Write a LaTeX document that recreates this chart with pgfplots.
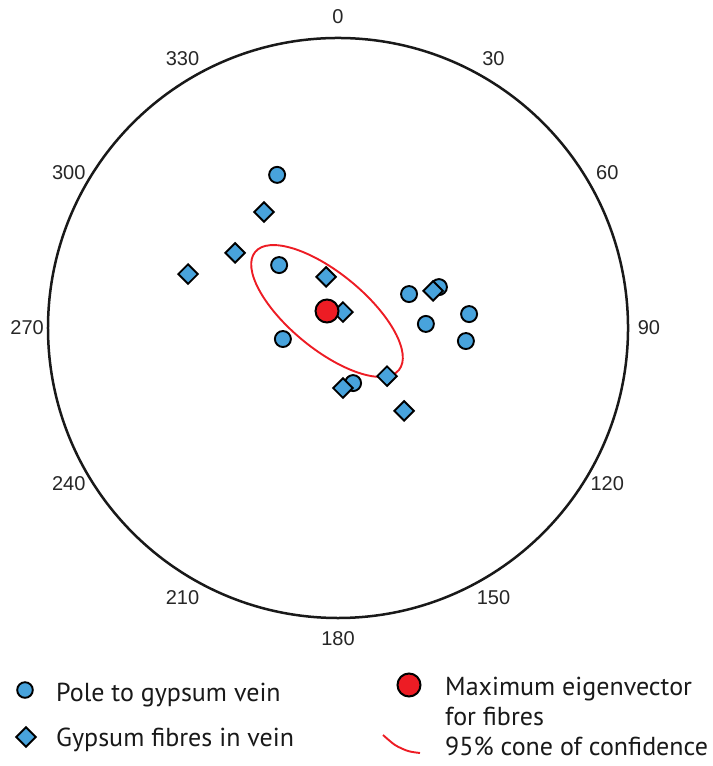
\documentclass[border=0pt]{standalone}
\usepackage{pgfplots}
\pgfplotsset{compat=1.18}
\usepackage{fontspec}
\setmainfont{Liberation Sans}
\newfontfamily\legfont{PT Sans}
\definecolor{ptblue}{RGB}{72,163,220}
\definecolor{ptred}{RGB}{237,28,36}
\begin{document}
\begin{tikzpicture}
\begin{axis}[
  scale only axis, width=580pt, height=580pt,
  xmin=-1, xmax=1, ymin=-1, ymax=1,
  hide axis, clip=false,
]
\path (axis cs:-1.1655,1.1310) rectangle (axis cs:1.2897,-1.5103);
% primitive circle
\draw[line width=2.5pt, black!90] (axis cs:0,0) circle [radius=1];
% azimuth labels
\pgfplotsinvokeforeach{0,30,60,90,120,150,180,210,240,270,300,330}{
  \node[font=\fontsize{20}{24}\selectfont, text=black!85, inner sep=0pt] at (axis cs:{1.072*sin(#1)},{1.072*cos(#1)}) {#1};
}
% poles to gypsum veins
\addplot[only marks, mark=*, mark size=8pt, mark options={fill=ptblue, draw=black, line width=1.9pt}] coordinates {
(-0.210,0.528) (-0.203,0.217) (-0.190,-0.038) (0.052,-0.190) (0.245,0.117)
(0.348,0.141) (0.303,0.014) (0.452,0.048) (0.441,-0.045)
};
% gypsum fibres
\addplot[only marks, mark=square*, mark size=6.9pt, mark options={rotate=45, fill=ptblue, draw=black, line width=1.9pt}] coordinates {
(-0.255,0.400) (-0.355,0.259) (-0.517,0.186) (-0.041,0.176) (0.017,0.055)
(0.328,0.128) (0.169,-0.166) (0.017,-0.207) (0.228,-0.286)
};
% 95% cone of confidence
\draw[ptred, line width=1.9pt] (axis cs:-0.0379,0.0586) ellipse [x radius=0.3207, y radius=0.131, rotate=-39.4];
% maximum eigenvector
\addplot[only marks, mark=*, mark size=11.5pt, mark options={fill=ptred, draw=black, line width=2pt}] coordinates {(-0.0379,0.0586)};
% legend
\addplot[only marks, mark=*, mark size=7.8pt, mark options={fill=ptblue, draw=black, line width=1.9pt}] coordinates {(-1.0793,-1.2483)};
\addplot[only marks, mark=square*, mark size=6.9pt, mark options={rotate=45, fill=ptblue, draw=black, line width=1.9pt}] coordinates {(-1.0759,-1.4103)};
\addplot[only marks, mark=*, mark size=11.5pt, mark options={fill=ptred, draw=black, line width=2pt}] coordinates {(0.2448,-1.2310)};
\addplot[ptred, line width=1.9pt, smooth, no markers] coordinates {(0.1552,-1.4034) (0.1966,-1.4379) (0.2414,-1.4586) (0.2828,-1.4655)};
\begin{scope}[every node/.style={font=\legfont\fontsize{26}{30}\selectfont, text=black!90, inner sep=0pt, anchor=base west}]
\node at (axis cs:-0.9724,-1.2862) {Pole to gypsum vein};
\node at (axis cs:-0.9724,-1.4414) {Gypsum fibres in vein};
\node at (axis cs:0.3690,-1.2655) {Maximum eigenvector};
\node at (axis cs:0.3690,-1.3690) {for fibres};
\node at (axis cs:0.3690,-1.4724) {95\% cone of confidence};
\end{scope}
\end{axis}
\end{tikzpicture}
\end{document}
